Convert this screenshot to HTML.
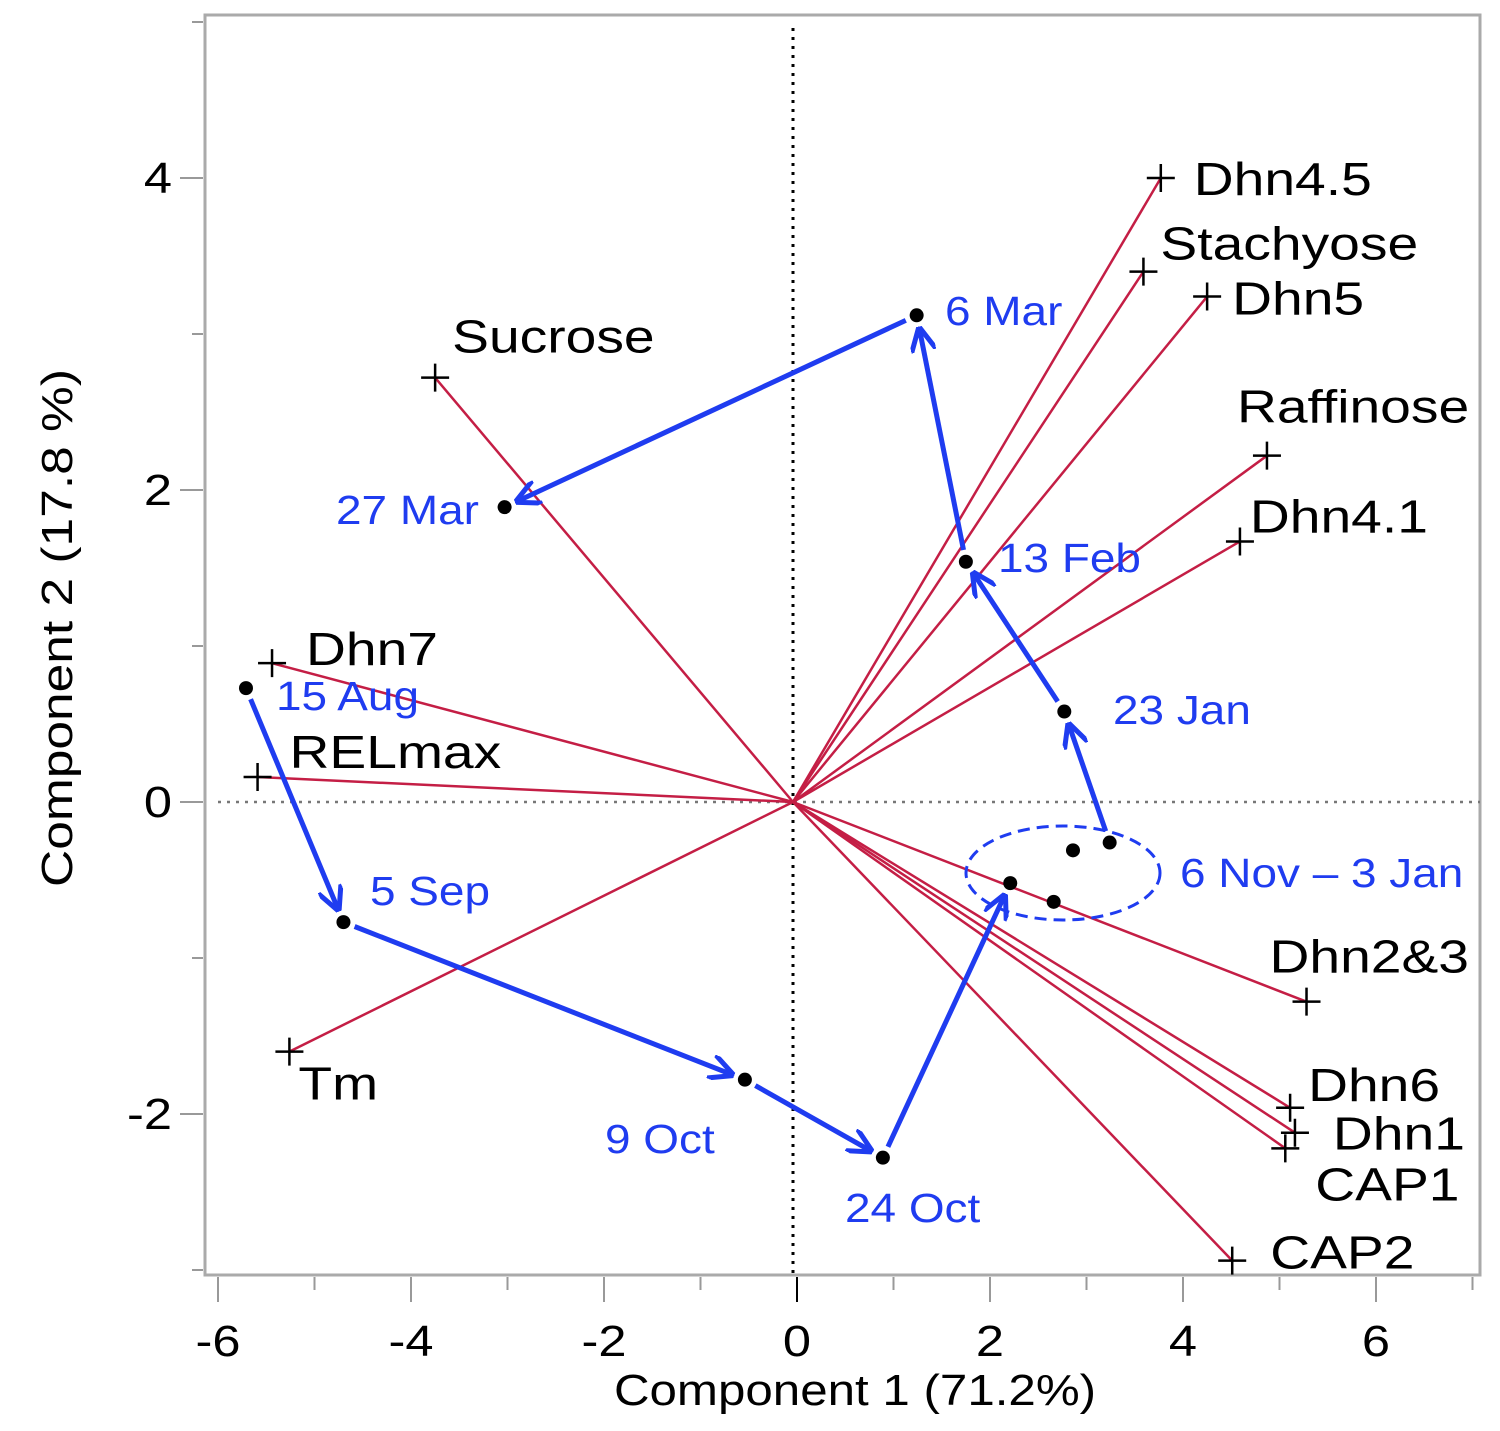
<!DOCTYPE html>
<html><head><meta charset="utf-8"><style>
body{margin:0;background:#fff}
svg text{font-family:"Liberation Sans",Arial,sans-serif}
</style></head><body>
<svg width="1500" height="1426" viewBox="0 0 1500 1426" id="chart">
<defs><marker id="ah" viewBox="0 0 10 10" refX="9" refY="5" markerWidth="5" markerHeight="5" orient="auto" markerUnits="strokeWidth"><path d="M0,0 L10,5 L0,10" fill="none" stroke="#1f3cf0" stroke-width="2"/></marker></defs>
<rect x="205" y="15" width="1275" height="1260" fill="none" stroke="#aaa" stroke-width="3"/>
<g id="axes"></g><g id="vecs"></g><g id="traj"></g>
<text id="xt" x="855" y="1405" font-size="44" text-anchor="middle">Component 1  (71.2%)</text>
<text id="yt" transform="translate(72,628) rotate(-90)" font-size="44" text-anchor="middle">Component 2  (17.8 %)</text>
</svg>
<script>
const varNames=["Dhn4.5","Stachyose","Dhn5","Raffinose","Dhn4.1","Sucrose","Dhn7","RELmax","Tm","Dhn2&3","Dhn6","Dhn1","CAP1","CAP2"];
const varX=[3.77,3.59,4.25,4.87,4.59,-3.75,-5.44,-5.59,-5.26,5.28,5.11,5.16,5.06,4.51];
const varY=[4.0,3.40,3.24,2.22,1.67,2.72,0.89,0.16,-1.60,-1.28,-1.96,-2.12,-2.22,-2.94];
const scoreNames=["15 Aug","5 Sep","9 Oct","24 Oct","Nov-a","Nov-b","Nov-c","Nov-d","23 Jan","13 Feb","6 Mar","27 Mar"];
const scoreX=[-5.71,-4.70,-0.54,0.89,2.21,2.66,2.86,3.24,2.77,1.75,1.24,-3.03];
const scoreY=[0.73,-0.77,-1.78,-2.28,-0.52,-0.64,-0.31,-0.26,0.58,1.54,3.12,1.89];
const arrowFrom=[0,1,2,3,7,8,9,10];
const arrowTo=[1,2,3,4,8,9,10,11];
const xTicks=[-6,-5,-4,-3,-2,-1,0,1,2,3,4,5,6,7];
const yTicks=[-3,-2,-1,0,1,2,3,4,5];
const X=v=>797+96.5*v, Y=v=>802-156*v;
const NS="http://www.w3.org/2000/svg";
function mk(p,t,a){const e=document.createElementNS(NS,t);for(const k in a)e.setAttribute(k,a[k]);p.appendChild(e);return e;}
function stretch(t,f){const w=t.getComputedTextLength();t.setAttribute('textLength',w*f);t.setAttribute('lengthAdjust','spacingAndGlyphs');}
const ax=document.getElementById('axes'),vg=document.getElementById('vecs'),tg=document.getElementById('traj');
xTicks.forEach(t=>{const maj=t%2===0;const l=mk(ax,'line',{x1:X(t),x2:X(t),y1:1277,y2:maj?1302:1290,stroke:t===0?'#000':'#999','stroke-width':2});

if(maj&&t<7){const tx=mk(ax,'text',{x:X(t),y:1356,'font-size':44,'text-anchor':'middle'});tx.textContent=String(t);
stretch(tx,1.15);}});
yTicks.forEach(t=>{const maj=t%2===0;const l=mk(ax,'line',{x1:maj?180:192,x2:203,y1:Y(t),y2:Y(t),stroke:'#999','stroke-width':2});

if(maj&&t<5){const tx=mk(ax,'text',{x:172,y:Y(t)+15,'font-size':44,'text-anchor':'end'});tx.textContent=String(t);
stretch(tx,1.15);}});
let z=mk(ax,'line',{x1:X(0)-4,x2:X(0)-4,y1:28,y2:1275,stroke:'#000','stroke-width':3,'stroke-dasharray':'3 6'});

z=mk(ax,'line',{x1:218,x2:1480,y1:Y(0),y2:Y(0),stroke:'#777','stroke-width':2.5,'stroke-dasharray':'3 6'});

const lblOff={"Dhn4.5":[33,17],"Stachyose":[17,-12],"Dhn5":[25,18],"Raffinose":[-30,-33],"Dhn4.1":[10,-9],"Sucrose":[17,-25],"Dhn7":[34,2],"RELmax":[32,-9],"Tm":[9,48],"Dhn2&3":[-37,-29],"Dhn6":[18,-7],"Dhn1":[38,17],"CAP1":[30,52],"CAP2":[38,8]};
varNames.forEach((n,i)=>{const x=X(varX[i]),y=Y(varY[i]);
const l=mk(vg,'line',{x1:X(0)-4,y1:Y(0),x2:x,y2:y,stroke:'#c41e45','stroke-width':2.5});

const c=mk(vg,'path',{d:`M${x-14},${y}H${x+14}M${x},${y-14}V${y+14}`,stroke:'#000','stroke-width':2.5});

const o=lblOff[n];const t=mk(vg,'text',{x:x+o[0],y:y+o[1],'font-size':46});t.textContent=n;
stretch(t,1.2);});
arrowFrom.forEach((f,i)=>{const x1=X(scoreX[f]),y1=Y(scoreY[f]),x2=X(scoreX[arrowTo[i]]),y2=Y(scoreY[arrowTo[i]]);
const dx=x2-x1,dy=y2-y1,L=Math.hypot(dx,dy),ux=dx/L,uy=dy/L;
const a=mk(tg,'line',{x1:x1+ux*12,y1:y1+uy*12,x2:x2-ux*14,y2:y2-uy*14,stroke:'#1f3cf0','stroke-width':5,'marker-end':'url(#ah)'});
});
const el=mk(tg,'ellipse',{cx:1063,cy:873,rx:97,ry:47,fill:'none',stroke:'#1f3cf0','stroke-width':3,'stroke-dasharray':'12 7'});

scoreNames.forEach((n,i)=>{const d=mk(tg,'circle',{cx:X(scoreX[i]),cy:Y(scoreY[i]),r:7,fill:'#000'});
});
const dateLbls=[["6 Mar",945,325],["27 Mar",336,524],["13 Feb",998,572],["15 Aug",276,710],["23 Jan",1113,724],["5 Sep",370,905],["6 Nov – 3 Jan",1180,887],["9 Oct",605,1153],["24 Oct",845,1222]];
dateLbls.forEach(d=>{const t=mk(tg,'text',{x:d[1],y:d[2],'font-size':41,fill:'#1f3cf0'});t.textContent=d[0];
stretch(t,1.12);});
stretch(document.getElementById('xt'),1.12);
stretch(document.getElementById('yt'),1.17);
</script>
</body></html>
